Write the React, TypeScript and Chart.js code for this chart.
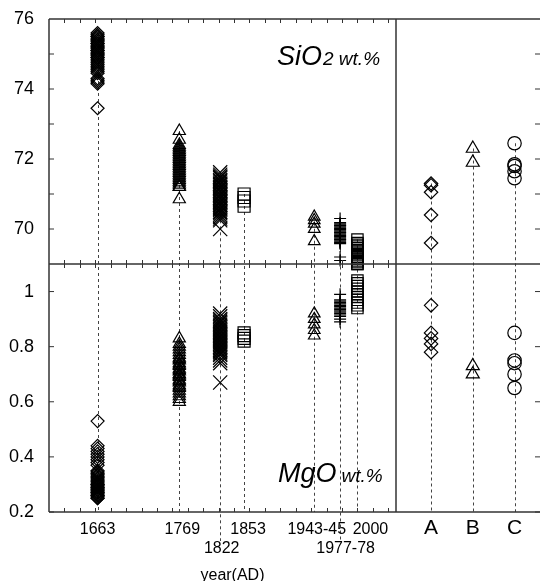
import React, { useEffect, useRef } from 'react';
import { Chart, registerables } from 'chart.js';

Chart.register(...registerables);

// ---- data: eruption years (left panel) ----
const YEAR_LABELS = ['1663', '1769', '1822', '1853', '1943-45', '1977-78', '2000'];
const YEAR_VALUES = [1663, 1769, 1822, 1853, 1944, 1977.5, 2000];

const SIO2_1663 = [75.6, 75.55, 75.5, 75.5, 75.45, 75.4, 75.4, 75.35, 75.3, 75.3, 75.25, 75.2, 75.2, 75.15, 75.1, 75.1, 75.05, 75.0, 75.0, 74.95, 74.9, 74.9, 74.85, 74.8, 74.75, 74.7, 74.65, 74.6, 74.55, 74.5, 74.45, 74.3, 74.25, 74.2, 74.15, 73.45];
const MGO_1663 = [0.53, 0.44, 0.43, 0.42, 0.41, 0.4, 0.39, 0.38, 0.37, 0.35, 0.345, 0.34, 0.335, 0.33, 0.325, 0.32, 0.315, 0.31, 0.305, 0.3, 0.3, 0.295, 0.29, 0.29, 0.285, 0.28, 0.28, 0.275, 0.27, 0.27, 0.265, 0.26, 0.26, 0.255, 0.25, 0.25];

const SIO2_1769 = [72.8, 72.55, 72.4, 72.35, 72.3, 72.25, 72.2, 72.15, 72.1, 72.05, 72.0, 71.95, 71.9, 71.85, 71.8, 71.75, 71.7, 71.65, 71.6, 71.55, 71.5, 71.45, 71.4, 71.35, 71.3, 71.25, 71.2, 71.2, 70.85];
const MGO_1769 = [0.83, 0.81, 0.8, 0.79, 0.78, 0.77, 0.76, 0.755, 0.75, 0.74, 0.735, 0.73, 0.72, 0.715, 0.71, 0.7, 0.7, 0.695, 0.69, 0.68, 0.675, 0.67, 0.66, 0.655, 0.65, 0.64, 0.63, 0.62, 0.61, 0.6];

const SIO2_1822 = [71.62, 71.55, 71.5, 71.48, 71.45, 71.4, 71.38, 71.35, 71.3, 71.28, 71.25, 71.2, 71.18, 71.15, 71.1, 71.08, 71.05, 71.0, 70.98, 70.95, 70.9, 70.88, 70.85, 70.8, 70.78, 70.75, 70.7, 70.68, 70.65, 70.6, 70.58, 70.55, 70.5, 70.48, 70.45, 70.4, 70.35, 70.3, 70.25, 70.0];
const MGO_1822 = [0.92, 0.91, 0.9, 0.895, 0.89, 0.885, 0.88, 0.875, 0.87, 0.865, 0.86, 0.855, 0.85, 0.845, 0.84, 0.835, 0.83, 0.825, 0.82, 0.815, 0.81, 0.805, 0.8, 0.795, 0.79, 0.785, 0.78, 0.775, 0.77, 0.76, 0.75, 0.74, 0.67];

const SIO2_1853 = [71.0, 70.9, 70.8, 70.65];
const MGO_1853 = [0.85, 0.84, 0.83, 0.82];

const SIO2_1944 = [70.35, 70.25, 70.15, 70.0, 69.65];
const MGO_1944 = [0.92, 0.9, 0.88, 0.86, 0.84];

const SIO2_1977 = [70.3, 70.18, 70.15, 70.12, 70.1, 70.08, 70.05, 70.02, 70.0, 69.98, 69.95, 69.92, 69.9, 69.88, 69.85, 69.82, 69.8, 69.78, 69.75, 69.72, 69.7, 69.68, 69.65, 69.62, 69.6, 69.58, 69.2, 69.1];
const MGO_1977 = [0.99, 0.97, 0.965, 0.96, 0.955, 0.95, 0.945, 0.94, 0.935, 0.93, 0.925, 0.92, 0.915, 0.91, 0.9, 0.89];

const SIO2_2000 = [69.7, 69.6, 69.55, 69.5, 69.45, 69.4, 69.35, 69.3, 69.25, 69.2, 69.15, 69.1, 69.05, 69.0];
const MGO_2000 = [1.1, 1.04, 1.03, 1.02, 1.01, 1.0, 0.99, 0.98, 0.97, 0.96, 0.95, 0.94];

const YEAR_SIO2 = [SIO2_1663, SIO2_1769, SIO2_1822, SIO2_1853, SIO2_1944, SIO2_1977, SIO2_2000];
const YEAR_MGO = [MGO_1663, MGO_1769, MGO_1822, MGO_1853, MGO_1944, MGO_1977, MGO_2000];

// ---- data: categories (right panel) ----
const CATEGORIES = ['A', 'B', 'C'];
const SIO2_A = [71.3, 71.25, 71.05, 70.4, 69.6];
const MGO_A = [0.95, 0.85, 0.83, 0.81, 0.78];
const SIO2_B = [72.3, 71.9];
const MGO_B = [0.73, 0.7];
const SIO2_C = [72.45, 71.85, 71.8, 71.65, 71.45];
const MGO_C = [0.85, 0.75, 0.74, 0.7, 0.65];
const CAT_SIO2 = [SIO2_A, SIO2_B, SIO2_C];
const CAT_MGO = [MGO_A, MGO_B, MGO_C];

// ---- tick labels ----
const SIO2_TICKS = [70, 72, 74, 76];
const SIO2_MINOR = [70, 71, 72, 73, 74, 75];
const MGO_TICKS = [0.2, 0.4, 0.6, 0.8, 1];
const YEAR_MINOR = [1620, 1640, 1660, 1680, 1700, 1720, 1740, 1760, 1780, 1800, 1820, 1840, 1860, 1880, 1900, 1920, 1940, 1960, 1980, 2000, 2020, 2040];

// ---- styles ----
const YEAR_POINT_STYLE = ['rectRot', 'triangle', 'crossRot', 'rect', 'triangle', 'cross', 'rect'];
const YEAR_POINT_RADIUS = [6.5, 7, 10, 8.5, 6.7, 6, 8];
const CAT_POINT_STYLE = ['rectRot', 'triangle', 'circle'];
const CAT_POINT_RADIUS = [6.7, 7.5, 6.7];
const YEAR_LABEL_ROW = [0, 0, 1, 0, 0, 1, 0];
const YEAR_LABEL_NUDGE = [0, 3, 1.5, 4, 2.5, 5.5, 13];
const FONT = '"Liberation Sans", Arial, sans-serif';

const line = (ctx: CanvasRenderingContext2D, x1: number, y1: number, x2: number, y2: number) => {
  ctx.beginPath();
  ctx.moveTo(x1, y1);
  ctx.lineTo(x2, y2);
  ctx.stroke();
};

const framePlugin = {
  id: 'frame',
  beforeDatasetsDraw(chart: any) {
    const { ctx, chartArea, scales } = chart;
    const xY = scales.xYear, xC = scales.xCat, yS = scales.ySi;
    ctx.save();
    ctx.strokeStyle = '#444';
    ctx.lineWidth = 1;
    ctx.setLineDash([3, 3]);
    const drop = (x: number, topVal: number, extra: number) => {
      const px = Math.round(x) + 0.5;
      line(ctx, px, yS.getPixelForValue(topVal), px, chartArea.bottom + extra);
    };
    YEAR_VALUES.forEach((yr, i) => drop(xY.getPixelForValue(yr), Math.max(...YEAR_SIO2[i]), YEAR_LABEL_ROW[i] ? 29 : 0));
    CATEGORIES.forEach((_, i) => drop(xC.getPixelForValue(i + 1), Math.max(...CAT_SIO2[i]), 0));
    ctx.restore();
  },
  afterDraw(chart: any) {
    const { ctx, chartArea, scales } = chart;
    const xY = scales.xYear, xC = scales.xCat, yS = scales.ySi, yM = scales.yMg;
    const L = chartArea.left, R = chartArea.right, T = chartArea.top, B = chartArea.bottom;
    const M = yS.bottom;
    const V = xC.left;
    ctx.save();
    ctx.strokeStyle = '#333';
    ctx.lineWidth = 1.5;
    line(ctx, L, T, R, T);
    line(ctx, L, B, R, B);
    line(ctx, L, T, L, B);
    line(ctx, L, M, R, M);
    line(ctx, V, T, V, B);
    ctx.lineWidth = 1;
    SIO2_MINOR.forEach((v) => {
      const y = yS.getPixelForValue(v);
      line(ctx, L, y, L + 5, y);
      line(ctx, R - 5, y, R, y);
    });
    MGO_TICKS.forEach((v) => {
      const y = yM.getPixelForValue(v);
      line(ctx, L, y, L + 5, y);
      line(ctx, R - 5, y, R, y);
    });
    YEAR_MINOR.forEach((yr) => {
      const x = Math.round(xY.getPixelForValue(yr)) + 0.5;
      line(ctx, x, T, x, T + 4);
      line(ctx, x, M - 4, x, M + 4);
      line(ctx, x, B - 4, x, B);
    });

    ctx.fillStyle = '#000';
    ctx.textAlign = 'center';
    ctx.textBaseline = 'alphabetic';
    ctx.font = `16px ${FONT}`;
    YEAR_LABELS.forEach((t, i) => {
      ctx.fillText(t, xY.getPixelForValue(YEAR_VALUES[i]) + YEAR_LABEL_NUDGE[i], B + (YEAR_LABEL_ROW[i] ? 41 : 22));
    });
    ctx.fillText('year(AD)', (xY.left + xY.right) / 2 + 10, B + 68);

    ctx.textAlign = 'left';
    ctx.font = `italic 27px ${FONT}`;
    ctx.fillText('SiO', 277, T + 46);
    const w1 = ctx.measureText('SiO').width;
    ctx.font = `italic 19px ${FONT}`;
    ctx.fillText('2 wt.%', 277 + w1 + 1, T + 46);
    ctx.font = `italic 27px ${FONT}`;
    ctx.fillText('MgO', 278, B - 30);
    const w2 = ctx.measureText('MgO').width;
    ctx.font = `italic 19px ${FONT}`;
    ctx.fillText('wt.%', 278 + w2 + 5, B - 30);
    ctx.restore();
  },
};

const MARK = {
  pointBorderColor: '#000',
  pointBackgroundColor: 'rgba(0,0,0,0)',
  pointBorderWidth: 1.2,
  showLine: false,
  clip: false,
};

const noPad = (s: any) => {
  s.paddingLeft = 0;
  s.paddingRight = 0;
  s.paddingTop = 0;
  s.paddingBottom = 0;
};

export default function App() {
  const ref = useRef<HTMLCanvasElement>(null);
  useEffect(() => {
    const canvas = ref.current;
    if (!canvas) return;
    const datasets: any[] = [];
    YEAR_VALUES.forEach((yr, i) => {
      const common = { ...MARK, pointStyle: YEAR_POINT_STYLE[i], pointRadius: YEAR_POINT_RADIUS[i], pointHoverRadius: YEAR_POINT_RADIUS[i], xAxisID: 'xYear' };
      datasets.push({ label: `SiO2 ${YEAR_LABELS[i]}`, data: YEAR_SIO2[i].map((y) => ({ x: yr, y })), yAxisID: 'ySi', ...common });
      datasets.push({ label: `MgO ${YEAR_LABELS[i]}`, data: YEAR_MGO[i].map((y) => ({ x: yr, y })), yAxisID: 'yMg', ...common });
    });
    CATEGORIES.forEach((c, i) => {
      const common = { ...MARK, pointStyle: CAT_POINT_STYLE[i], pointRadius: CAT_POINT_RADIUS[i], pointHoverRadius: CAT_POINT_RADIUS[i], xAxisID: 'xCat' };
      datasets.push({ label: `SiO2 ${c}`, data: CAT_SIO2[i].map((y) => ({ x: i + 1, y })), yAxisID: 'ySi', ...common });
      datasets.push({ label: `MgO ${c}`, data: CAT_MGO[i].map((y) => ({ x: i + 1, y })), yAxisID: 'yMg', ...common });
    });

    const yCommon = (ticks: number[], fmt: (v: number) => string) => ({
      type: 'linear',
      position: 'left',
      stack: 'v',
      grid: { display: false, drawTicks: false },
      border: { display: false },
      afterBuildTicks: (s: any) => { s.ticks = ticks.map((value) => ({ value })); },
      afterFit: (s: any) => { s.width = 49; noPad(s); },
      ticks: { font: { family: FONT, size: 18 }, color: '#000', padding: 15, autoSkip: false, callback: (v: any) => fmt(Number(v)) },
    });

    const chart = new Chart(canvas, {
      type: 'scatter',
      data: { datasets },
      options: {
        animation: false,
        responsive: true,
        maintainAspectRatio: false,
        events: [],
        layout: { autoPadding: false, padding: { top: 19, left: 0, right: 0, bottom: 0 } },
        plugins: { legend: { display: false }, tooltip: { enabled: false } },
        scales: {
          ySi: { ...yCommon(SIO2_TICKS, (v) => String(v)), min: 69, max: 76, stackWeight: 245, weight: 1 },
          yMg: { ...yCommon(MGO_TICKS, (v) => String(Math.round(v * 10) / 10)), min: 0.2, max: 1.1, stackWeight: 248, weight: 0 },
          xYear: {
            type: 'linear', position: 'bottom', stack: 'h', stackWeight: 347, weight: 0,
            min: 1600, max: 2050,
            grid: { display: false, drawTicks: false }, border: { display: false },
            ticks: { display: false },
            afterFit: (s: any) => { s.height = 69; noPad(s); },
          },
          xCat: {
            type: 'linear', position: 'bottom', stack: 'h', stackWeight: 144, weight: 1,
            min: 0.16, max: 3.61,
            grid: { display: false, drawTicks: false }, border: { display: false },
            afterBuildTicks: (s: any) => { s.ticks = CATEGORIES.map((_, i) => ({ value: i + 1 })); },
            ticks: { font: { family: FONT, size: 21 }, color: '#000', padding: 4, autoSkip: false, maxRotation: 0, callback: (v: any) => CATEGORIES[Math.round(Number(v)) - 1] },
            afterFit: (s: any) => { s.height = 69; noPad(s); },
          },
        } as any,
      },
      plugins: [framePlugin],
    } as any);
    return () => chart.destroy();
  }, []);

  return (
    <div style={{ position: 'fixed', left: 0, top: 0, width: 540, height: 581, background: '#fff' }}>
      <canvas ref={ref} />
    </div>
  );
}
